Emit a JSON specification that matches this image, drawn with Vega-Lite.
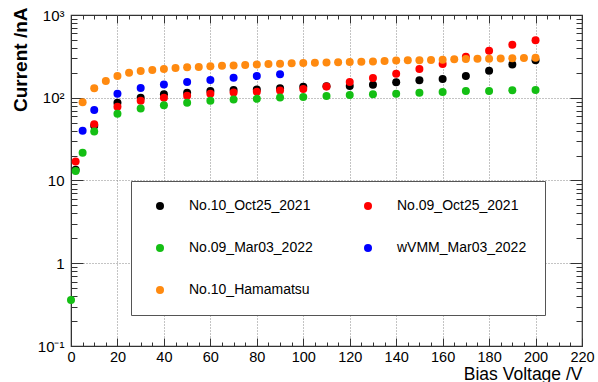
{
  "$schema": "https://vega.github.io/schema/vega-lite/v6.json",
  "width": 511,
  "height": 331,
  "autosize": {"type": "none"},
  "padding": {"left": 71, "top": 15, "right": 16, "bottom": 36},
  "background": "white",
  "config": {
    "view": {"stroke": "#333", "strokeWidth": 1.2},
    "font": "Liberation Sans"
  },
  "data": {
    "values": [
      {"s": "No.10_Oct25_2021", "V": 2, "I": 13.5},
      {"s": "No.10_Oct25_2021", "V": 10, "I": 46},
      {"s": "No.10_Oct25_2021", "V": 20, "I": 87},
      {"s": "No.10_Oct25_2021", "V": 30, "I": 100},
      {"s": "No.10_Oct25_2021", "V": 40, "I": 110},
      {"s": "No.10_Oct25_2021", "V": 50, "I": 115},
      {"s": "No.10_Oct25_2021", "V": 60, "I": 121},
      {"s": "No.10_Oct25_2021", "V": 70, "I": 124},
      {"s": "No.10_Oct25_2021", "V": 80, "I": 126},
      {"s": "No.10_Oct25_2021", "V": 90, "I": 130},
      {"s": "No.10_Oct25_2021", "V": 100, "I": 136},
      {"s": "No.10_Oct25_2021", "V": 110, "I": 138},
      {"s": "No.10_Oct25_2021", "V": 120, "I": 139},
      {"s": "No.10_Oct25_2021", "V": 130, "I": 144},
      {"s": "No.10_Oct25_2021", "V": 140, "I": 154},
      {"s": "No.10_Oct25_2021", "V": 150, "I": 163},
      {"s": "No.10_Oct25_2021", "V": 160, "I": 169},
      {"s": "No.10_Oct25_2021", "V": 170, "I": 183},
      {"s": "No.10_Oct25_2021", "V": 180, "I": 212},
      {"s": "No.10_Oct25_2021", "V": 190, "I": 253},
      {"s": "No.10_Oct25_2021", "V": 200, "I": 284},
      {"s": "No.09_Oct25_2021", "V": 2, "I": 17},
      {"s": "No.09_Oct25_2021", "V": 10, "I": 48},
      {"s": "No.09_Oct25_2021", "V": 20, "I": 78},
      {"s": "No.09_Oct25_2021", "V": 30, "I": 92},
      {"s": "No.09_Oct25_2021", "V": 40, "I": 100},
      {"s": "No.09_Oct25_2021", "V": 50, "I": 106},
      {"s": "No.09_Oct25_2021", "V": 60, "I": 112},
      {"s": "No.09_Oct25_2021", "V": 70, "I": 116},
      {"s": "No.09_Oct25_2021", "V": 80, "I": 118},
      {"s": "No.09_Oct25_2021", "V": 90, "I": 122},
      {"s": "No.09_Oct25_2021", "V": 100, "I": 128},
      {"s": "No.09_Oct25_2021", "V": 110, "I": 137},
      {"s": "No.09_Oct25_2021", "V": 120, "I": 155},
      {"s": "No.09_Oct25_2021", "V": 130, "I": 173},
      {"s": "No.09_Oct25_2021", "V": 140, "I": 195},
      {"s": "No.09_Oct25_2021", "V": 150, "I": 222},
      {"s": "No.09_Oct25_2021", "V": 160, "I": 256},
      {"s": "No.09_Oct25_2021", "V": 170, "I": 313},
      {"s": "No.09_Oct25_2021", "V": 180, "I": 371},
      {"s": "No.09_Oct25_2021", "V": 190, "I": 438},
      {"s": "No.09_Oct25_2021", "V": 200, "I": 494},
      {"s": "No.09_Mar03_2022", "V": 0, "I": 0.36},
      {"s": "No.09_Mar03_2022", "V": 2, "I": 13},
      {"s": "No.09_Mar03_2022", "V": 5, "I": 21.7},
      {"s": "No.09_Mar03_2022", "V": 10, "I": 39},
      {"s": "No.09_Mar03_2022", "V": 20, "I": 64},
      {"s": "No.09_Mar03_2022", "V": 30, "I": 74},
      {"s": "No.09_Mar03_2022", "V": 40, "I": 81},
      {"s": "No.09_Mar03_2022", "V": 50, "I": 87},
      {"s": "No.09_Mar03_2022", "V": 60, "I": 92},
      {"s": "No.09_Mar03_2022", "V": 70, "I": 95},
      {"s": "No.09_Mar03_2022", "V": 80, "I": 97},
      {"s": "No.09_Mar03_2022", "V": 90, "I": 101},
      {"s": "No.09_Mar03_2022", "V": 100, "I": 102},
      {"s": "No.09_Mar03_2022", "V": 110, "I": 105},
      {"s": "No.09_Mar03_2022", "V": 120, "I": 108},
      {"s": "No.09_Mar03_2022", "V": 130, "I": 110},
      {"s": "No.09_Mar03_2022", "V": 140, "I": 112},
      {"s": "No.09_Mar03_2022", "V": 150, "I": 115},
      {"s": "No.09_Mar03_2022", "V": 160, "I": 117},
      {"s": "No.09_Mar03_2022", "V": 170, "I": 121},
      {"s": "No.09_Mar03_2022", "V": 180, "I": 121},
      {"s": "No.09_Mar03_2022", "V": 190, "I": 123},
      {"s": "No.09_Mar03_2022", "V": 200, "I": 124},
      {"s": "wVMM_Mar03_2022", "V": 5, "I": 40},
      {"s": "wVMM_Mar03_2022", "V": 10, "I": 71},
      {"s": "wVMM_Mar03_2022", "V": 20, "I": 112},
      {"s": "wVMM_Mar03_2022", "V": 30, "I": 131},
      {"s": "wVMM_Mar03_2022", "V": 40, "I": 145},
      {"s": "wVMM_Mar03_2022", "V": 50, "I": 155},
      {"s": "wVMM_Mar03_2022", "V": 60, "I": 164},
      {"s": "wVMM_Mar03_2022", "V": 70, "I": 175},
      {"s": "wVMM_Mar03_2022", "V": 80, "I": 183},
      {"s": "wVMM_Mar03_2022", "V": 90, "I": 192},
      {"s": "No.10_Hamamatsu", "V": 5, "I": 88},
      {"s": "No.10_Hamamatsu", "V": 10, "I": 130},
      {"s": "No.10_Hamamatsu", "V": 15, "I": 159},
      {"s": "No.10_Hamamatsu", "V": 20, "I": 183},
      {"s": "No.10_Hamamatsu", "V": 25, "I": 201},
      {"s": "No.10_Hamamatsu", "V": 30, "I": 210},
      {"s": "No.10_Hamamatsu", "V": 35, "I": 216},
      {"s": "No.10_Hamamatsu", "V": 40, "I": 222},
      {"s": "No.10_Hamamatsu", "V": 45, "I": 229},
      {"s": "No.10_Hamamatsu", "V": 50, "I": 233},
      {"s": "No.10_Hamamatsu", "V": 55, "I": 236},
      {"s": "No.10_Hamamatsu", "V": 60, "I": 240},
      {"s": "No.10_Hamamatsu", "V": 65, "I": 243},
      {"s": "No.10_Hamamatsu", "V": 70, "I": 246},
      {"s": "No.10_Hamamatsu", "V": 75, "I": 249},
      {"s": "No.10_Hamamatsu", "V": 80, "I": 252},
      {"s": "No.10_Hamamatsu", "V": 85, "I": 255},
      {"s": "No.10_Hamamatsu", "V": 90, "I": 258},
      {"s": "No.10_Hamamatsu", "V": 95, "I": 261},
      {"s": "No.10_Hamamatsu", "V": 100, "I": 263},
      {"s": "No.10_Hamamatsu", "V": 105, "I": 265},
      {"s": "No.10_Hamamatsu", "V": 110, "I": 267},
      {"s": "No.10_Hamamatsu", "V": 115, "I": 268},
      {"s": "No.10_Hamamatsu", "V": 120, "I": 270},
      {"s": "No.10_Hamamatsu", "V": 125, "I": 272},
      {"s": "No.10_Hamamatsu", "V": 130, "I": 275},
      {"s": "No.10_Hamamatsu", "V": 135, "I": 278},
      {"s": "No.10_Hamamatsu", "V": 140, "I": 281},
      {"s": "No.10_Hamamatsu", "V": 145, "I": 283},
      {"s": "No.10_Hamamatsu", "V": 150, "I": 284},
      {"s": "No.10_Hamamatsu", "V": 155, "I": 286},
      {"s": "No.10_Hamamatsu", "V": 160, "I": 288},
      {"s": "No.10_Hamamatsu", "V": 165, "I": 291},
      {"s": "No.10_Hamamatsu", "V": 170, "I": 294},
      {"s": "No.10_Hamamatsu", "V": 175, "I": 295},
      {"s": "No.10_Hamamatsu", "V": 180, "I": 296},
      {"s": "No.10_Hamamatsu", "V": 185, "I": 298},
      {"s": "No.10_Hamamatsu", "V": 190, "I": 300},
      {"s": "No.10_Hamamatsu", "V": 195, "I": 302},
      {"s": "No.10_Hamamatsu", "V": 200, "I": 305}
    ]
  },
  "resolve": {"axis": {"x": "independent", "y": "independent"}},
  "layer": [
    {
      "mark": {"type": "point", "filled": true, "size": 64, "opacity": 1},
      "encoding": {
        "x": {
          "field": "V", "type": "quantitative",
          "scale": {"domain": [0, 220], "nice": false, "zero": false},
          "axis": {
            "orient": "bottom",
            "values": [0,5,10,15,20,25,30,35,40,45,50,55,60,65,70,75,80,85,90,95,100,105,110,115,120,125,130,135,140,145,150,155,160,165,170,175,180,185,190,195,200,205,210,215,220],
            "labelExpr": "datum.value % 20 == 0 ? datum.label : ''",
            "tickSize": {"condition": {"test": "datum.value % 20 == 0", "value": -8}, "value": -4},
            "labelPadding": 12,
            "grid": true,
            "gridOpacity": {"condition": {"test": "datum.value % 20 == 0 && datum.value > 0 && datum.value < 220", "value": 1}, "value": 0},
            "gridDash": [1, 2],
            "gridColor": "#888",
            "domainColor": "#333",
            "tickColor": "#333",
            "labelFontSize": 14.5,
            "labelColor": "#000",
            "labelFont": "Liberation Sans",
            "labelFlush": false,
            "labelOverlap": false,
            "title": "Bias Voltage /V",
            "titleFont": "Liberation Sans",
            "titleFontSize": 17.5,
            "titleFontWeight": "normal",
            "titleColor": "#000",
            "titleAlign": "right",
            "titleBaseline": "alphabetic",
            "titleX": 511,
            "titleY": 33
          }
        },
        "y": {
          "field": "I", "type": "quantitative",
          "scale": {"type": "log", "domain": [0.1, 1000], "nice": false},
          "axis": {
            "orient": "left",
            "values": [0.1,0.2,0.3,0.4,0.5,0.6,0.7,0.8,0.9,1,2,3,4,5,6,7,8,9,10,20,30,40,50,60,70,80,90,100,200,300,400,500,600,700,800,900,1000],
            "labelExpr": "datum.value == 0.1 ? '10⁻¹' : datum.value == 1 ? '1' : datum.value == 10 ? '10' : datum.value == 100 ? '10²' : datum.value == 1000 ? '10³' : ''",
            "tickSize": {"condition": {"test": "indexof([0.1,1,10,100,1000], datum.value) >= 0", "value": -12}, "value": -6},
            "labelPadding": 19,
            "grid": true,
            "gridOpacity": {"condition": {"test": "indexof([1,10,100], datum.value) >= 0", "value": 1}, "value": 0},
            "gridDash": [1, 2],
            "gridColor": "#888",
            "domainColor": "#333",
            "tickColor": "#333",
            "labelFontSize": 15,
            "labelColor": "#000",
            "labelFont": "Liberation Sans",
            "labelFlush": false,
            "labelOverlap": false,
            "title": "Current /nA",
            "titleFont": "Liberation Sans",
            "titleFontSize": 19,
            "titleFontWeight": "bold",
            "titleColor": "#000",
            "titleAngle": 270,
            "titleAlign": "right",
            "titleBaseline": "middle",
            "titleX": -51,
            "titleY": -8
          }
        },
        "color": {
          "field": "s", "type": "nominal",
          "scale": {
            "domain": ["No.10_Oct25_2021", "No.09_Oct25_2021", "No.09_Mar03_2022", "wVMM_Mar03_2022", "No.10_Hamamatsu"],
            "range": ["#000000", "#ff0000", "#14bf14", "#0000ff", "#ff8a10"]
          },
          "legend": {
            "orient": "none",
            "legendX": 60,
            "legendY": 166,
            "title": null,
            "columns": 2,
            "gridAlign": "all",
            "direction": "horizontal",
            "symbolType": "circle",
            "symbolSize": 64,
            "symbolOffset": 4,
            "labelOffset": 22,
            "columnPadding": 38,
            "rowPadding": 28,
            "padding": 18,
            "strokeColor": "#555",
            "fillColor": "white",
            "labelFont": "Liberation Sans",
            "labelFontSize": 14,
            "labelColor": "#000",
            "labelLimit": 300
          }
        }
      }
    },
    {
      "mark": {"type": "point", "opacity": 0},
      "encoding": {
        "x": {
          "field": "V", "type": "quantitative",
          "axis": {
            "orient": "top",
            "values": [0,5,10,15,20,25,30,35,40,45,50,55,60,65,70,75,80,85,90,95,100,105,110,115,120,125,130,135,140,145,150,155,160,165,170,175,180,185,190,195,200,205,210,215,220],
            "labels": false,
            "grid": false,
            "domain": false,
            "title": null,
            "tickColor": "#333",
            "tickSize": {"condition": {"test": "datum.value % 20 == 0", "value": -8}, "value": -4}
          }
        },
        "y": {
          "field": "I", "type": "quantitative",
          "axis": {
            "orient": "right",
            "values": [0.1,0.2,0.3,0.4,0.5,0.6,0.7,0.8,0.9,1,2,3,4,5,6,7,8,9,10,20,30,40,50,60,70,80,90,100,200,300,400,500,600,700,800,900,1000],
            "labels": false,
            "grid": false,
            "domain": false,
            "title": null,
            "tickColor": "#333",
            "tickSize": {"condition": {"test": "indexof([0.1,1,10,100,1000], datum.value) >= 0", "value": -12}, "value": -6}
          }
        }
      }
    }
  ]
}
